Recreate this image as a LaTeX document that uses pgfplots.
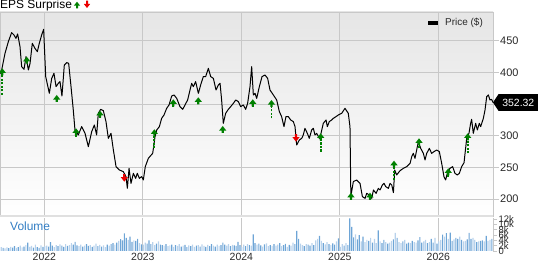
\documentclass[border=0pt]{standalone}
\usepackage{pgfplots}
\pgfplotsset{compat=1.18}
\usepackage{pgfplotstable}
\usepackage{fontspec}
\setmainfont{Liberation Sans}
\definecolor{gridc}{RGB}{200,200,200}
\definecolor{epsgreen}{RGB}{0,128,0}
\definecolor{epsred}{RGB}{235,0,0}
\definecolor{vollight}{RGB}{184,210,236}
\definecolor{voldark}{RGB}{110,165,214}
\definecolor{volblue}{RGB}{50,125,195}
\definecolor{txt}{RGB}{40,40,40}

\pgfdeclareplotmark{epsup}{%
  \pgfpathmoveto{\pgfpoint{0bp}{0bp}}%
  \pgfpathlineto{\pgfpoint{-3.6bp}{-4.6bp}}%
  \pgfpathlineto{\pgfpoint{-1.1bp}{-4.6bp}}%
  \pgfpathlineto{\pgfpoint{-1.1bp}{-7bp}}%
  \pgfpathlineto{\pgfpoint{1.1bp}{-7bp}}%
  \pgfpathlineto{\pgfpoint{1.1bp}{-4.6bp}}%
  \pgfpathlineto{\pgfpoint{3.6bp}{-4.6bp}}%
  \pgfpathclose\pgfusepathqfill}
\pgfdeclareplotmark{epsdown}{%
  \pgfpathmoveto{\pgfpoint{0bp}{0bp}}%
  \pgfpathlineto{\pgfpoint{-3.6bp}{4.6bp}}%
  \pgfpathlineto{\pgfpoint{-1.1bp}{4.6bp}}%
  \pgfpathlineto{\pgfpoint{-1.1bp}{7.5bp}}%
  \pgfpathlineto{\pgfpoint{1.1bp}{7.5bp}}%
  \pgfpathlineto{\pgfpoint{1.1bp}{4.6bp}}%
  \pgfpathlineto{\pgfpoint{3.6bp}{4.6bp}}%
  \pgfpathclose\pgfusepathqfill}

\pgfplotstableread{
t p
2021.551 398.0
2021.567 403.7
2021.601 430.0
2021.635 448.5
2021.668 462.7
2021.692 459.0
2021.712 453.7
2021.729 460.6
2021.753 440.6
2021.770 409.0
2021.794 404.7
2021.814 424.8
2021.838 403.7
2021.855 414.2
2021.878 445.8
2021.905 437.9
2021.929 432.7
2021.949 445.8
2021.973 459.0
2021.993 468.0
2022.014 393.2
2022.051 366.8
2022.075 390.5
2022.098 398.4
2022.119 377.4
2022.142 382.6
2022.159 385.3
2022.179 362.6
2022.203 411.6
2022.227 415.3
2022.247 414.2
2022.271 377.4
2022.294 340.5
2022.311 308.9
2022.345 301.0
2022.379 314.2
2022.413 303.6
2022.447 282.6
2022.481 306.3
2022.508 316.8
2022.531 301.0
2022.548 335.2
2022.572 341.5
2022.599 339.4
2022.626 322.1
2022.650 295.7
2022.677 303.6
2022.701 277.3
2022.728 251.0
2022.762 245.7
2022.802 243.1
2022.829 235.2
2022.843 216.7
2022.860 248.3
2022.880 224.6
2022.904 240.4
2022.927 232.5
2022.944 240.4
2022.965 232.5
2022.988 235.2
2023.005 229.9
2023.025 251.0
2023.056 264.1
2023.100 272.0
2023.124 298.4
2023.141 308.9
2023.168 314.2
2023.191 327.3
2023.215 332.6
2023.242 343.1
2023.266 348.4
2023.293 362.6
2023.317 364.2
2023.344 358.9
2023.377 345.8
2023.405 341.5
2023.428 348.4
2023.455 356.3
2023.479 372.1
2023.496 382.6
2023.513 377.4
2023.536 385.3
2023.564 366.8
2023.587 380.0
2023.614 393.2
2023.638 393.2
2023.665 406.3
2023.689 393.2
2023.716 390.5
2023.743 372.1
2023.767 380.0
2023.784 382.6
2023.800 356.3
2023.817 319.4
2023.841 335.2
2023.868 341.5
2023.892 345.8
2023.919 351.0
2023.943 356.3
2023.970 353.7
2023.993 345.8
2024.020 348.4
2024.044 341.5
2024.064 351.0
2024.088 377.4
2024.105 409.0
2024.122 364.2
2024.139 366.8
2024.156 358.9
2024.183 377.4
2024.210 393.2
2024.240 395.8
2024.267 390.5
2024.291 372.1
2024.325 364.2
2024.359 356.3
2024.386 337.9
2024.409 330.0
2024.433 314.2
2024.453 330.0
2024.477 330.0
2024.501 324.7
2024.528 322.1
2024.545 314.2
2024.562 285.2
2024.589 293.1
2024.613 295.7
2024.629 301.0
2024.646 311.5
2024.670 303.6
2024.690 295.7
2024.714 308.9
2024.731 311.5
2024.748 301.0
2024.765 303.6
2024.792 295.7
2024.809 303.6
2024.832 319.4
2024.860 324.7
2024.873 314.2
2024.893 322.1
2024.917 324.7
2024.934 327.3
2024.961 330.0
2024.985 332.6
2025.019 335.2
2025.052 343.1
2025.086 335.2
2025.103 314.2
2025.112 204.0
2025.137 227.3
2025.171 229.9
2025.205 224.6
2025.229 203.6
2025.256 200.9
2025.273 208.8
2025.300 206.2
2025.324 200.9
2025.341 214.1
2025.368 208.8
2025.391 216.7
2025.408 214.1
2025.432 222.0
2025.449 224.6
2025.466 219.4
2025.493 216.7
2025.510 224.6
2025.527 222.0
2025.544 209.9
2025.557 245.7
2025.577 237.8
2025.611 244.6
2025.645 248.3
2025.679 251.0
2025.713 256.2
2025.730 266.8
2025.746 272.0
2025.763 264.1
2025.797 290.5
2025.821 279.9
2025.848 272.0
2025.865 261.5
2025.882 272.0
2025.909 279.9
2025.932 272.0
2025.956 274.7
2025.983 277.3
2026.010 274.7
2026.034 256.2
2026.057 235.2
2026.074 229.9
2026.095 243.1
2026.118 248.3
2026.145 251.0
2026.169 240.4
2026.193 237.8
2026.213 240.4
2026.237 251.0
2026.261 257.3
2026.288 295.7
2026.311 303.6
2026.328 319.4
2026.338 325.7
2026.355 303.6
2026.379 319.4
2026.396 308.9
2026.416 319.4
2026.430 314.2
2026.457 327.3
2026.474 340.5
2026.491 361.6
2026.508 364.2
2026.524 356.3
2026.541 357.3
2026.555 352.32
}\pricedata

% weekly volume (thousands): column lt = light bars, dk = darker bars
\pgfplotstableread[row sep=\\]{
lt dk\\
1.5 0\\0 1.2\\1.0 0\\1.4 0\\0 1.1\\1.6 0\\0 1.3\\0 1.8\\1.2 0\\0 1.5\\2.0 0\\1.4 0\\0 1.7\\
2.2 0\\0 3.2\\1.6 0\\1.9 0\\0 1.3\\2.4 0\\0 1.5\\0 1.2\\2.1 0\\0 1.6\\1.8 0\\2.0 0\\0 1.7\\
0 3.4\\0 2.0\\1.5 0\\2.2 0\\0 1.8\\2.5 0\\0 2.0\\0 1.6\\2.6 0\\0 1.9\\2.2 0\\3.0 0\\0 2.4\\
0 3.5\\0 2.1\\1.8 0\\2.4 0\\0 1.7\\2.0 0\\0 2.6\\0 1.9\\2.2 0\\0 1.6\\2.0 0\\2.8 0\\0 1.8\\
2.3 0\\0 1.7\\2.1 0\\1.5 0\\0 2.4\\2.0 0\\0 2.6\\0 3.0\\2.4 0\\0 3.2\\3.8 0\\0 4.5\\0 4.0\\
0 6.7\\0 5.0\\4.2 0\\0 5.4\\0 3.5\\4.0 0\\0 3.8\\0 4.6\\3.0 0\\0 2.5\\2.4 0\\3.2 0\\0 2.8\\
0 4.0\\0 2.6\\3.4 0\\2.2 0\\0 2.8\\3.6 0\\0 2.4\\0 2.2\\2.0 0\\0 2.6\\1.8 0\\2.1 0\\0 2.4\\
1.6 0\\0 2.2\\1.9 0\\2.6 0\\0 1.7\\2.0 0\\0 2.3\\0 1.5\\2.1 0\\0 1.8\\2.4 0\\1.6 0\\0 2.0\\
2.2 0\\0 1.7\\2.5 0\\1.9 0\\0 1.6\\2.3 0\\0 1.8\\0 2.6\\2.0 0\\0 1.7\\2.4 0\\1.9 0\\0 2.2\\
0 3.2\\0 2.4\\2.0 0\\2.6 0\\0 1.8\\2.3 0\\0 2.1\\0 1.9\\0 3.5\\0 2.2\\1.6 0\\2.4 0\\0 1.8\\
2.6 0\\0 2.2\\2.0 0\\0 6.3\\0 3.0\\2.4 0\\0 2.8\\0 2.1\\1.7 0\\0 2.5\\2.9 0\\1.8 0\\0 2.2\\
1.9 0\\0 2.6\\2.0 0\\2.4 0\\0 3.0\\1.8 0\\0 2.2\\0 2.7\\1.6 0\\0 2.3\\2.0 0\\3.2 0\\0 2.6\\
0 7.6\\0 4.6\\2.8 0\\2.2 0\\0 1.8\\2.6 0\\0 2.4\\0 2.0\\3.0 0\\0 2.2\\4.0 0\\4.6 0\\0 5.7\\
3.8 0\\0 3.0\\2.5 0\\3.4 0\\0 2.6\\2.2 0\\0 2.9\\0 2.4\\3.6 0\\0 4.8\\1.6 0\\2.6 0\\0 2.0\\
3.0 0\\0 2.2\\0 12.4\\0 9.1\\0 5.2\\6.3 0\\0 4.4\\0 6.0\\3.6 0\\0 5.4\\3.4 0\\4.2 0\\0 3.8\\
5.0 0\\0 3.2\\4.6 0\\3.0 0\\0 7.8\\3.6 0\\0 3.0\\0 4.2\\3.4 0\\0 2.8\\3.2 0\\3.8 0\\0 4.4\\
6.9 0\\0 5.0\\3.4 0\\3.0 0\\0 3.6\\4.2 0\\0 2.8\\0 3.2\\3.0 0\\0 3.8\\3.4 0\\3.2 0\\0 4.0\\
0 5.3\\0 3.2\\3.6 0\\4.2 0\\0 3.0\\3.4 0\\0 4.6\\0 3.2\\5.0 0\\0 2.8\\3.6 0\\4.2 0\\0 6.2\\
5.4 0\\0 6.8\\4.6 0\\0 7.0\\0 3.8\\4.4 0\\0 5.0\\0 4.6\\5.4 0\\0 4.2\\3.6 0\\3.8 0\\0 4.4\\
0 6.9\\0 4.6\\5.0 0\\4.2 0\\0 3.4\\3.6 0\\0 3.8\\0 4.0\\3.6 0\\0 5.7\\3.8 0\\4.2 0\\0 4.6\\
}\voldata

\begin{document}
\begin{tikzpicture}[x=1bp,y=1bp]
% ---------------- price panel ----------------
\begin{axis}[
  name=price, at={(0bp,46bp)}, anchor=south west, scale only axis,
  width=493bp, height=204bp,
  xmin=2021.550, xmax=2026.555, ymin=173, ymax=495.3,
  xtick={2022,2023,2024,2025,2026}, xticklabels={},
  ytick={200,250,300,350,400,450}, yticklabels={200,250,300,,400,450},
  ytick pos=right, yticklabel pos=right, tick align=outside,
  major tick length=6bp,
  xtick style={draw=none}, ytick style={gridc, line width=0.8bp},
  grid=major, grid style={gridc, line width=0.8bp},
  axis line style={gridc, line width=0.8bp},
  axis background/.style={top color=black!10, middle color=white, bottom color=white},
  tick label style={font=\fontsize{11}{13}\selectfont, text=txt},
  yticklabel style={inner sep=1bp},
  /pgf/number format/assume math mode=true,
  unbounded coords=jump,
]
\addplot[black, line width=1bp, line join=round, mark=none] table[x=t, y=p] {\pricedata};
% EPS surprise tails
\addplot[epsgreen, line width=1.8bp, dash pattern=on 2.2bp off 1.3bp, mark=none] coordinates {
(2021.573,364.2) (2021.573,400) (2021.573,nan)
(2021.821,414.8) (2021.821,420) (2021.821,nan)
(2022.126,356.3) (2022.126,360) (2022.126,nan)
(2022.322,298.3) (2022.322,306) (2022.322,nan)
(2022.565,327.9) (2022.565,334) (2022.565,nan)
(2023.117,280.0) (2023.117,304) (2023.117,nan)
(2023.309,345.2) (2023.309,352) (2023.309,nan)
(2023.563,350.0) (2023.563,355) (2023.563,nan)
(2023.811,304.6) (2023.811,310) (2023.811,nan)
(2024.116,345.7) (2024.116,352) (2024.116,nan)
(2024.306,327.4) (2024.306,350) (2024.306,nan)
(2024.806,274.6) (2024.806,298) (2024.806,nan)
(2025.113,198.3) (2025.113,204) (2025.113,nan)
(2025.306,198.3) (2025.306,204) (2025.306,nan)
(2025.550,229.9) (2025.550,254) (2025.550,nan)
(2025.804,280.0) (2025.804,290) (2025.804,nan)
(2026.101,235.1) (2026.101,243) (2026.101,nan)
(2026.298,272.1) (2026.298,298)
};
\addplot[only marks, mark=epsup, epsgreen, mark options={fill=epsgreen, draw=none}] coordinates {
(2021.573,406.4) (2021.821,424.7) (2022.126,364.2) (2022.322,311.6) (2022.565,339.4)
(2023.117,310.0) (2023.309,357.4) (2023.563,360.6) (2023.811,315.2) (2024.116,357.4)
(2024.306,356.3) (2024.806,303.7) (2025.113,209.8) (2025.306,209.8) (2025.550,260.4)
(2025.804,295.8) (2026.101,248.4) (2026.298,303.7)
};
\addplot[only marks, mark=epsdown, epsred, mark options={fill=epsred, draw=none}] coordinates {
(2022.812,227.2) (2024.555,290.4)
};
\coordinate (last) at (axis cs:2026.555,352.32);
\end{axis}

% ---------------- volume panel ----------------
\begin{axis}[
  name=vol, at={(0bp,11bp)}, anchor=south west, scale only axis,
  width=493bp, height=33bp,
  xmin=-0.66, xmax=259.6, ymin=0, ymax=12.5,
  ybar, bar width=0.62, /pgf/bar shift=0pt,
  xtick={22.74,74.74,126.74,178.74,230.74},
  xticklabels={},
  xmajorgrids, grid style={gridc, line width=0.8bp},
  ytick={0,2,4,6,8,10,12}, yticklabels={0,2k,4k,6k,8k,10k,12k},
  axis x line*=bottom, axis y line*=right,
  x axis line style={draw=none}, y axis line style={gridc, line width=0.8bp},
  xtick style={draw=none}, ytick style={gridc, line width=0.8bp},
  tick align=outside, major tick length=4bp,
  yticklabel style={font=\fontsize{9.5}{11}\selectfont, text=txt, inner sep=1.5bp},
  /pgf/number format/assume math mode=true,
]
\addplot[fill=vollight, draw=none] table[x expr=\coordindex, y=lt] {\voldata};
\addplot[fill=voldark, draw=none] table[x expr=\coordindex, y=dk] {\voldata};
\coordinate (ya) at (axis cs:22.74,0);
\coordinate (yb) at (axis cs:74.74,0);
\coordinate (yc) at (axis cs:126.74,0);
\coordinate (yd) at (axis cs:178.74,0);
\coordinate (ye) at (axis cs:230.74,0);
\end{axis}

% year labels under the volume panel
\begin{scope}[every node/.style={anchor=base, inner sep=0pt, font=\fontsize{10.5}{12}\selectfont, text=txt}]
\node at ([yshift=-9.6bp]ya) {2022};
\node at ([yshift=-9.6bp]yb) {2023};
\node at ([yshift=-9.6bp]yc) {2024};
\node at ([yshift=-9.6bp]yd) {2025};
\node at ([yshift=-9.6bp]ye) {2026};
\end{scope}

% separator band between panels
\fill[black!12] (0bp,44.8bp) rectangle (493bp,47.4bp);

% title
\node[anchor=base west, inner sep=0pt, font=\fontsize{12}{14}\selectfont, text=black] at (0bp,253bp) {EPS Surprise};
\fill[epsgreen] (77bp,260.3bp) -- (73.8bp,256.3bp) -- (76bp,256.3bp) -- (76bp,253.7bp) -- (78bp,253.7bp) -- (78bp,256.3bp) -- (80.2bp,256.3bp) -- cycle;
\fill[epsred] (87bp,254bp) -- (83.8bp,258bp) -- (86bp,258bp) -- (86bp,261.3bp) -- (88bp,261.3bp) -- (88bp,258bp) -- (90.2bp,258bp) -- cycle;

% legend
\fill[black] (428bp,237bp) rectangle (438bp,241bp);
\node[anchor=base west, inner sep=0pt, font=\fontsize{10}{12}\selectfont, text=txt] at (445bp,236bp) {Price (\$)};

% volume label
\node[anchor=base west, inner sep=0pt, font=\fontsize{12}{14}\selectfont, text=volblue] at (10bp,31.3bp) {Volume};

% last price tag
\fill[black] (last) -- ++(5.5bp,8.3bp) -- ++(39.5bp,0bp) -- ++(0bp,-16.6bp) -- ++(-39.5bp,0bp) -- cycle;
\node[anchor=center, inner sep=0pt, font=\fontsize{10.5}{12}\selectfont, text=white] at ([xshift=25.3bp]last) {352.32};

\pgfresetboundingbox
\path (0bp,0bp) rectangle (538bp,262bp);
\end{tikzpicture}
\end{document}
